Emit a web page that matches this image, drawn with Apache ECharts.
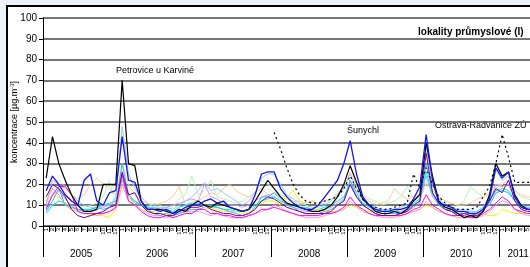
<!DOCTYPE html>
<html>
<head>
<meta charset="utf-8">
<script src="https://cdn.jsdelivr.net/npm/echarts@6/dist/echarts.min.js"></script>
<style>
  html, body { margin: 0; padding: 0; overflow: hidden; background: #eef2fa; }
  #frame { position: absolute; left: 6px; top: 5px; width: 640px; height: 300px; border: 2px solid #000; background: #fff; }
  #chart { position: absolute; left: 0; top: 0; width: 580px; height: 267px; }
</style>
</head>
<body>
<div id="frame"></div>
<div id="chart"></div>
<script>
// měsíce leden 2005 - červen 2011, popisky osy
var years = ['2005', '2006', '2007', '2008', '2009', '2010', '2011'];
var monthCount = 78;
var months = [];
for (var i = 0; i < monthCount; i++) months.push(String(i % 12 + 1));
var yTicks = [0, 10, 20, 30, 40, 50, 60, 70, 80, 90, 100];

// hodnoty (leden 2005 - červen 2011)
var sBlack = [
    23, 43, 30, 22, 15, 10, 7, 7, 8, 20, 20, 20,
    70, 30, 29, 12, 8, 8, 8, 7, 6, 8, 7, 10,
    12, 10, 9, 11, 10, 9, 8, 7, 8, 12, 17, 22,
    18, 14, 11, 10, 9, 8, 7, 7, 8, 10, 14, 20,
    29, 21, 13, 10, 7, 6, 6, 7, 6, 8, 12, 15,
    40, 24, 12, 9, 8, 6, 4, 5, 4, 7, 15, 30,
    24, 26, 15, 10, 8, 8
];
var sBlue = [
    17, 24, 20, 15, 12, 10, 22, 25, 12, 10, 16, 17,
    43, 22, 21, 12, 8, 8, 7, 8, 6, 7, 9, 10,
    10, 12, 13, 11, 12, 9, 8, 7, 8, 15, 25, 26,
    26, 18, 14, 11, 9, 8, 8, 10, 14, 18, 22, 30,
    41, 25, 14, 10, 8, 7, 7, 8, 8, 9, 13, 19,
    44, 22, 11, 10, 9, 7, 7, 6, 6, 8, 13, 28,
    23, 26, 14, 9, 8, 8
];
var sLightBlue = [
    10, 22, 20, 18, 15, 12, 10, 9, 8, 10, 10, 14,
    48, 25, 18, 14, 11, 9, 9, 9, 8, 10, 12, 14,
    17, 21, 17, 18, 16, 14, 12, 10, 12, 16, 23, 25,
    25, 20, 15, 13, 11, 10, 9, 9, 10, 12, 15, 18,
    25, 18, 12, 10, 9, 8, 8, 8, 9, 10, 12, 15,
    38, 20, 13, 10, 9, 8, 8, 7, 7, 9, 14, 27,
    22, 24, 14, 10, 9, 9
];
var sCyan = [
    7, 12, 18, 10, 9, 8, 7, 8, 9, 8, 9, 10,
    30, 15, 12, 10, 8, 6, 5, 6, 5, 6, 7, 8,
    8, 9, 10, 9, 8, 7, 6, 5, 6, 9, 14, 14,
    16, 13, 10, 9, 7, 6, 6, 6, 7, 8, 10, 12,
    22, 16, 10, 8, 6, 5, 6, 6, 6, 7, 9, 11,
    30, 16, 10, 8, 7, 6, 6, 5, 6, 8, 10, 16,
    17, 16, 12, 9, 8, 7
];
var sTurquoise = [
    6, 10, 12, 11, 9, 8, 8, 8, 9, 10, 11, 12,
    24, 14, 11, 10, 9, 9, 8, 8, 7, 9, 10, 11,
    11, 10, 9, 9, 8, 8, 7, 7, 8, 10, 12, 13,
    14, 12, 11, 10, 9, 9, 8, 8, 9, 10, 12, 14,
    20, 14, 11, 9, 8, 8, 7, 7, 8, 9, 11, 13,
    26, 15, 11, 9, 8, 7, 7, 7, 7, 9, 12, 17,
    18, 17, 12, 10, 9, 9
];
var sMagenta = [
    8, 15, 19, 19, 15, 7, 6, 6, 6, 6, 7, 9,
    25, 12, 10, 7, 5, 4, 4, 5, 4, 5, 6, 6,
    8, 8, 6, 6, 5, 5, 4, 4, 5, 6, 8, 8,
    9, 8, 7, 6, 5, 5, 5, 5, 6, 6, 7, 9,
    14, 10, 8, 6, 5, 5, 5, 5, 5, 6, 8, 9,
    15, 10, 8, 6, 5, 5, 5, 4, 4, 6, 8, 11,
    14, 12, 8, 7, 6, 6
];
var sPink = [
    12, 18, 15, 10, 8, 7, 6, 6, 5, 6, 7, 8,
    20, 12, 10, 8, 6, 5, 5, 4, 5, 6, 7, 7,
    7, 6, 5, 6, 5, 4, 4, 4, 5, 6, 7, 8,
    10, 9, 7, 6, 5, 4, 4, 4, 5, 6, 7, 8,
    12, 9, 7, 6, 5, 4, 4, 4, 5, 6, 7, 8,
    12, 9, 7, 6, 5, 4, 4, 4, 4, 5, 7, 10,
    12, 11, 8, 6, 5, 5
];
var sPurple = [
    14, 20, 18, 14, 8, 5, 4, 5, 6, 7, 9, 10,
    26, 15, 16, 10, 7, 6, 6, 5, 5, 7, 8, 9,
    9, 10, 8, 7, 6, 6, 5, 5, 6, 8, 12, 14,
    13, 11, 9, 8, 7, 6, 6, 6, 6, 7, 10, 12,
    20, 14, 10, 8, 6, 5, 5, 5, 6, 7, 10, 12,
    35, 16, 11, 8, 7, 5, 6, 5, 5, 7, 12, 18,
    16, 22, 12, 8, 7, 7
];
var sYellow = [
    12, 15, 14, 11, 9, 7, 6, 5, 5, 5, 4, 8,
    19, 14, 10, 8, 7, 7, 6, 6, 5, 7, 6, 8,
    8, 8, 9, 8, 7, 7, 7, 6, 7, 9, 11, 12,
    12, 10, 14, 17, 12, 10, 8, 8, 7, 7, 7, 8,
    10, 9, 8, 7, 6, 5, 5, 5, 5, 6, 7, 8,
    10, 9, 7, 6, 5, 5, 5, 5, 5, 6, 5, 5,
    8, 7, 6, 6, 6, 6
];
var sLightGreen = [
    9, 10, 12, 15, 12, 10, 9, 10, 11, 14, 22, 10,
    22, 14, 12, 10, 9, 11, 10, 8, 9, 13, 15, 24,
    15, 17, 22, 14, 13, 12, 11, 12, 14, 16, 22, 20,
    18, 15, 14, 12, 10, 11, 12, 10, 11, 13, 15, 17,
    20, 18, 15, 13, 12, 10, 11, 12, 14, 19, 13, 12,
    21, 17, 14, 12, 11, 10, 12, 19, 16, 14, 15, 18,
    20, 22, 17, 14, 13, 12
];
var sPeach = [
    11, 20, 22, 19, 15, 13, 15, 20, 23, 20, 18, 15,
    30, 20, 15, 12, 11, 10, 11, 12, 14, 19, 10, 12,
    12, 14, 16, 15, 18, 20, 17, 15, 14, 16, 18, 15,
    16, 14, 13, 12, 12, 11, 12, 11, 12, 13, 16, 18,
    26, 20, 15, 12, 10, 11, 12, 18, 15, 13, 14, 15,
    20, 17, 14, 12, 11, 10, 10, 11, 13, 14, 16, 20,
    20, 22, 17, 15, 14, 14
];
var sLavender = [
    9, 15, 17, 13, 10, 8, 7, 7, 8, 9, 10, 12,
    22, 14, 12, 10, 9, 8, 8, 9, 10, 11, 12, 13,
    12, 20, 14, 13, 11, 10, 10, 9, 10, 12, 14, 15,
    14, 12, 10, 9, 8, 7, 7, 7, 8, 9, 11, 13,
    22, 14, 10, 8, 7, 7, 6, 7, 7, 8, 10, 12,
    24, 14, 10, 8, 8, 7, 6, 6, 6, 8, 11, 20,
    19, 20, 13, 9, 8, 8
];
var sRadvanice = [
    null, null, null, null, null, null, null, null, null, null, null, null,
    null, null, null, null, null, null, null, null, null, null, null, null,
    null, null, null, null, null, null, null, null, null, null, null, null,
    45, 37, 28, 20, 15, 12, 11, 11, 12, 13, 14, 18,
    24, 18, 13, 10, 9, 8, 8, 9, 10, 11, 25, 18,
    28, 20, 14, 11, 9, 8, 8, 8, 9, 14, 19, 30,
    44, 33, 21, 21, 21, 21
];

function line(name, data, color, width, type) {
    return {
        name: name,
        type: 'line',
        data: data,
        symbol: 'none',
        silent: true,
        lineStyle: { color: color, width: width || 1, type: type || 'solid' }
    };
}

// popisek roku patří doprostřed úseku (pro 2011 jen půl roku)
function isYearLabel(index) {
    var yearStart = Math.floor(index / 12) * 12;
    var len = Math.min(12, monthCount - yearStart);
    return index === yearStart + len / 2;
}

var chart = echarts.init(document.getElementById('chart'), null, { renderer: 'canvas' });

var option = {
    backgroundColor: 'transparent',
    animation: false,
    textStyle: { fontFamily: 'Liberation Sans, Arial, sans-serif', color: '#000' },
    // graf je vpravo oříznutý, osa pokračuje za okraj obrázku
    grid: { left: 43, width: 494, top: 18, bottom: 41, outerBoundsMode: 'none', containLabel: false },
    xAxis: [
        {
            type: 'category',
            data: months,
            boundaryGap: true,
            axisLine: { lineStyle: { color: '#000', width: 1 } },
            axisTick: { show: true, interval: 0, length: 6, lineStyle: { color: '#000' } },
            axisLabel: { interval: 0, rotate: 90, fontSize: 6, margin: 2, color: '#000' },
            splitLine: { show: false }
        },
        {
            type: 'category',
            data: months,
            position: 'bottom',
            boundaryGap: true,
            axisLine: { show: false },
            axisTick: {
                show: true, length: 31, lineStyle: { color: '#000' },
                interval: function (index) { return index % 12 === 0; }
            },
            axisLabel: {
                fontSize: 10, margin: 23, color: '#000',
                padding: [0, 6, 0, 0],
                interval: function (index) { return isYearLabel(index); },
                formatter: function (value, index) { return years[Math.floor(index / 12)]; }
            },
            splitLine: { show: false }
        }
    ],
    yAxis: {
        type: 'value',
        min: yTicks[0],
        max: yTicks[yTicks.length - 1],
        interval: 10,
        axisLine: { show: true, lineStyle: { color: '#000' } },
        axisTick: { show: true, length: 4, lineStyle: { color: '#000' } },
        axisLabel: { fontSize: 10, margin: 6, color: '#000' },
        splitLine: { lineStyle: { color: '#4a4a4a', width: 1.5 } }
    },
    series: [
        line('s-zelená', sLightGreen, '#b8f5b8'),
        line('s-broskvová', sPeach, '#ffcc99'),
        line('s-levandulová', sLavender, '#cc99ff'),
        line('s-tyrkysová', sTurquoise, '#00e8f0'),
        line('s-žlutá', sYellow, '#ffee00'),
        line('s-růžová', sPink, '#ff99cc'),
        line('s-světle modrá', sLightBlue, '#99c4ff'),
        line('s-azurová', sCyan, '#22c0f0'),
        line('s-purpurová', sMagenta, '#ff00ff'),
        line('s-fialová', sPurple, '#800080'),
        line('Ostrava-Radvanice ZÚ', sRadvanice, '#000', 1.2, [2, 3]),
        line('Petrovice u Karviné', sBlack, '#000', 1.2),
        line('Šunychl', sBlue, '#1414e6', 1.3)
    ],
    graphic: [
        {
            type: 'text', x: 15, y: 122, rotation: Math.PI / 2,
            style: {
                text: 'koncentrace [µg.m{sup|-3}]',
                font: '9px "Liberation Sans", Arial',
                fill: '#000', align: 'center', verticalAlign: 'middle',
                rich: { sup: { fontSize: 6, verticalAlign: 'top', padding: [0, 0, 5, 0] } }
            }
        },
        { type: 'text', left: 418, top: 27, style: { text: 'lokality průmyslové (I)', font: 'bold 10px "Liberation Sans", Arial', fill: '#000' } },
        { type: 'text', left: 116, top: 66, style: { text: 'Petrovice u Karviné', font: '9px "Liberation Sans", Arial', fill: '#000' } },
        { type: 'text', left: 347, top: 126, style: { text: 'Šunychl', font: '9px "Liberation Sans", Arial', fill: '#000' } },
        { type: 'text', left: 435, top: 121, style: { text: 'Ostrava-Radvanice ZÚ', font: '9px "Liberation Sans", Arial', fill: '#000' } }
    ]
};

chart.setOption(option);
</script>
</body>
</html>
